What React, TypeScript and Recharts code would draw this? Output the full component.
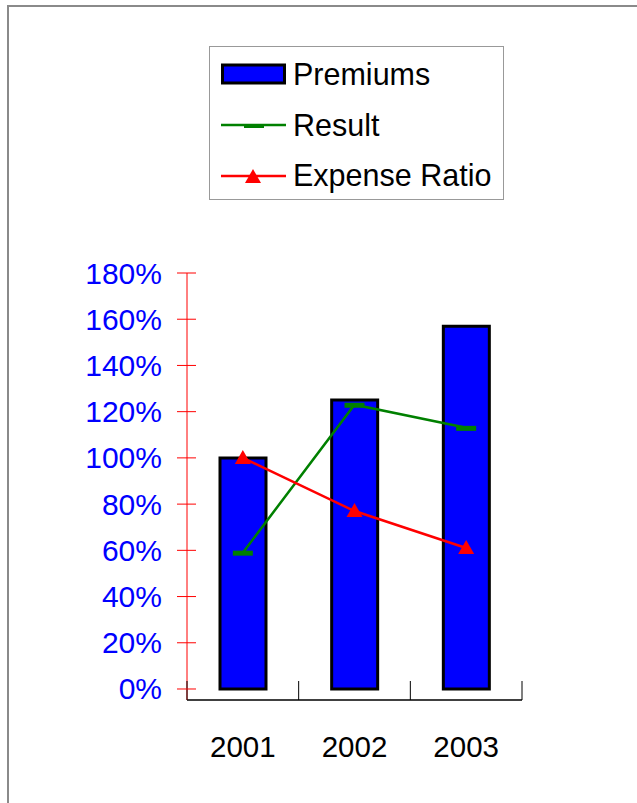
import React from 'react';
import { ComposedChart, Bar, Line, XAxis, YAxis } from 'recharts';

const years = ['2001', '2002', '2003'];
const premiums = [100, 125, 157];
const result = [59, 123, 113];
const expenseRatio = [100, 77, 61];
const percentTicks = [0, 20, 40, 60, 80, 100, 120, 140, 160, 180];

const FONT = 'Arial, "Liberation Sans", sans-serif';
const BAND = 335 / 3;

const data = years.map((year, i) => ({
  year,
  premiums: premiums[i],
  result: result[i],
  expenseRatio: expenseRatio[i],
}));

function YTick(props: any) {
  const { x, y, payload } = props;
  return (
    <g>
      <line x1={x - 10} x2={x + 9} y1={y} y2={y} stroke="#ff0000" strokeWidth={1} />
      <text x={x - 25} y={y} dy={10.5} textAnchor="end" fill="#0000ff" fontSize={30} fontFamily={FONT}>
        {payload.value}%
      </text>
    </g>
  );
}

function XTick(props: any) {
  const { x, y, payload, index } = props;
  return (
    <g>
      {index === 0 && (
        <line x1={x - BAND / 2} x2={x - BAND / 2} y1={y - 19} y2={y} stroke="#000" strokeWidth={1} />
      )}
      <line x1={x + BAND / 2} x2={x + BAND / 2} y1={y - 19} y2={y} stroke="#000" strokeWidth={1} />
      <text x={x} y={y + 57} textAnchor="middle" fill="#000" fontSize={29.5} fontFamily={FONT}>
        {payload.value}
      </text>
    </g>
  );
}

// flat green dash used as the Result marker
function DashDot(props: any) {
  const { cx, cy } = props;
  if (cx == null || cy == null) return null;
  return <rect x={cx - 10} y={cy - 2} width={20} height={5} fill="#008000" />;
}

function TriangleDot(props: any) {
  const { cx, cy } = props;
  if (cx == null || cy == null) return null;
  return <polygon points={`${cx},${cy - 8} ${cx + 8},${cy + 6} ${cx - 8},${cy + 6}`} fill="#ff0000" />;
}

function ChartLegend() {
  const rowStyle: React.CSSProperties = {
    position: 'absolute',
    left: 11,
    height: 30,
    display: 'flex',
    alignItems: 'center',
  };
  const labelStyle: React.CSSProperties = { fontSize: 30.5, fontFamily: FONT, color: '#000', marginLeft: 7 };
  return (
    <div
      style={{
        position: 'absolute',
        left: 209,
        top: 46,
        width: 293,
        height: 152,
        border: '1px solid #999',
        background: '#fff',
      }}
    >
      <div style={{ ...rowStyle, top: 12 }}>
        <svg width={65} height={30}>
          <rect x={1.5} y={6} width={62} height={18} fill="#0000ff" stroke="#000" strokeWidth={3} />
        </svg>
        <span style={labelStyle}>Premiums</span>
      </div>
      <div style={{ ...rowStyle, top: 63 }}>
        <svg width={65} height={30}>
          <line x1={0} x2={65} y1={15} y2={15} stroke="#008000" strokeWidth={2.5} />
          <rect x={23} y={14} width={20} height={4} fill="#008000" />
        </svg>
        <span style={labelStyle}>Result</span>
      </div>
      <div style={{ ...rowStyle, top: 113 }}>
        <svg width={65} height={30}>
          <line x1={0} x2={65} y1={16} y2={16} stroke="#ff0000" strokeWidth={2.5} />
          <polygon points="32,9 40,23 24,23" fill="#ff0000" />
        </svg>
        <span style={labelStyle}>Expense Ratio</span>
      </div>
    </div>
  );
}

export default function App() {
  return (
    <div style={{ position: 'absolute', left: 0, top: 0, width: 637, height: 803, overflow: 'hidden', background: '#fff' }}>
      <div
        style={{
          position: 'absolute',
          left: 7,
          top: 5,
          width: 630,
          height: 798,
          borderLeft: '2px solid #8a8a8a',
          borderTop: '2px solid #8a8a8a',
        }}
      />
      <div style={{ position: 'absolute', left: 0, top: 0 }}>
        <ComposedChart
          width={637}
          height={803}
          data={data}
          margin={{ top: 273, right: 115, bottom: 43, left: 87 }}
          barSize={46}
        >
          <XAxis
            dataKey="year"
            height={60}
            axisLine={{ stroke: '#000', strokeWidth: 1.5 }}
            tickLine={false}
            tickSize={0}
            tickMargin={0}
            tick={<XTick />}
            interval={0}
          />
          <YAxis
            type="number"
            domain={[-4.76, 180]}
            ticks={percentTicks}
            width={100}
            axisLine={{ stroke: '#ff0000', strokeWidth: 1 }}
            tickLine={false}
            tickSize={0}
            tickMargin={0}
            tick={<YTick />}
            interval={0}
          />
          <Bar dataKey="premiums" fill="#0000ff" stroke="#000" strokeWidth={3} isAnimationActive={false} />
          <Line
            type="linear"
            dataKey="result"
            stroke="#008000"
            strokeWidth={2.5}
            dot={<DashDot />}
            activeDot={false}
            isAnimationActive={false}
          />
          <Line
            type="linear"
            dataKey="expenseRatio"
            stroke="#ff0000"
            strokeWidth={2.5}
            dot={<TriangleDot />}
            activeDot={false}
            isAnimationActive={false}
          />
        </ComposedChart>
      </div>
      <ChartLegend />
    </div>
  );
}
